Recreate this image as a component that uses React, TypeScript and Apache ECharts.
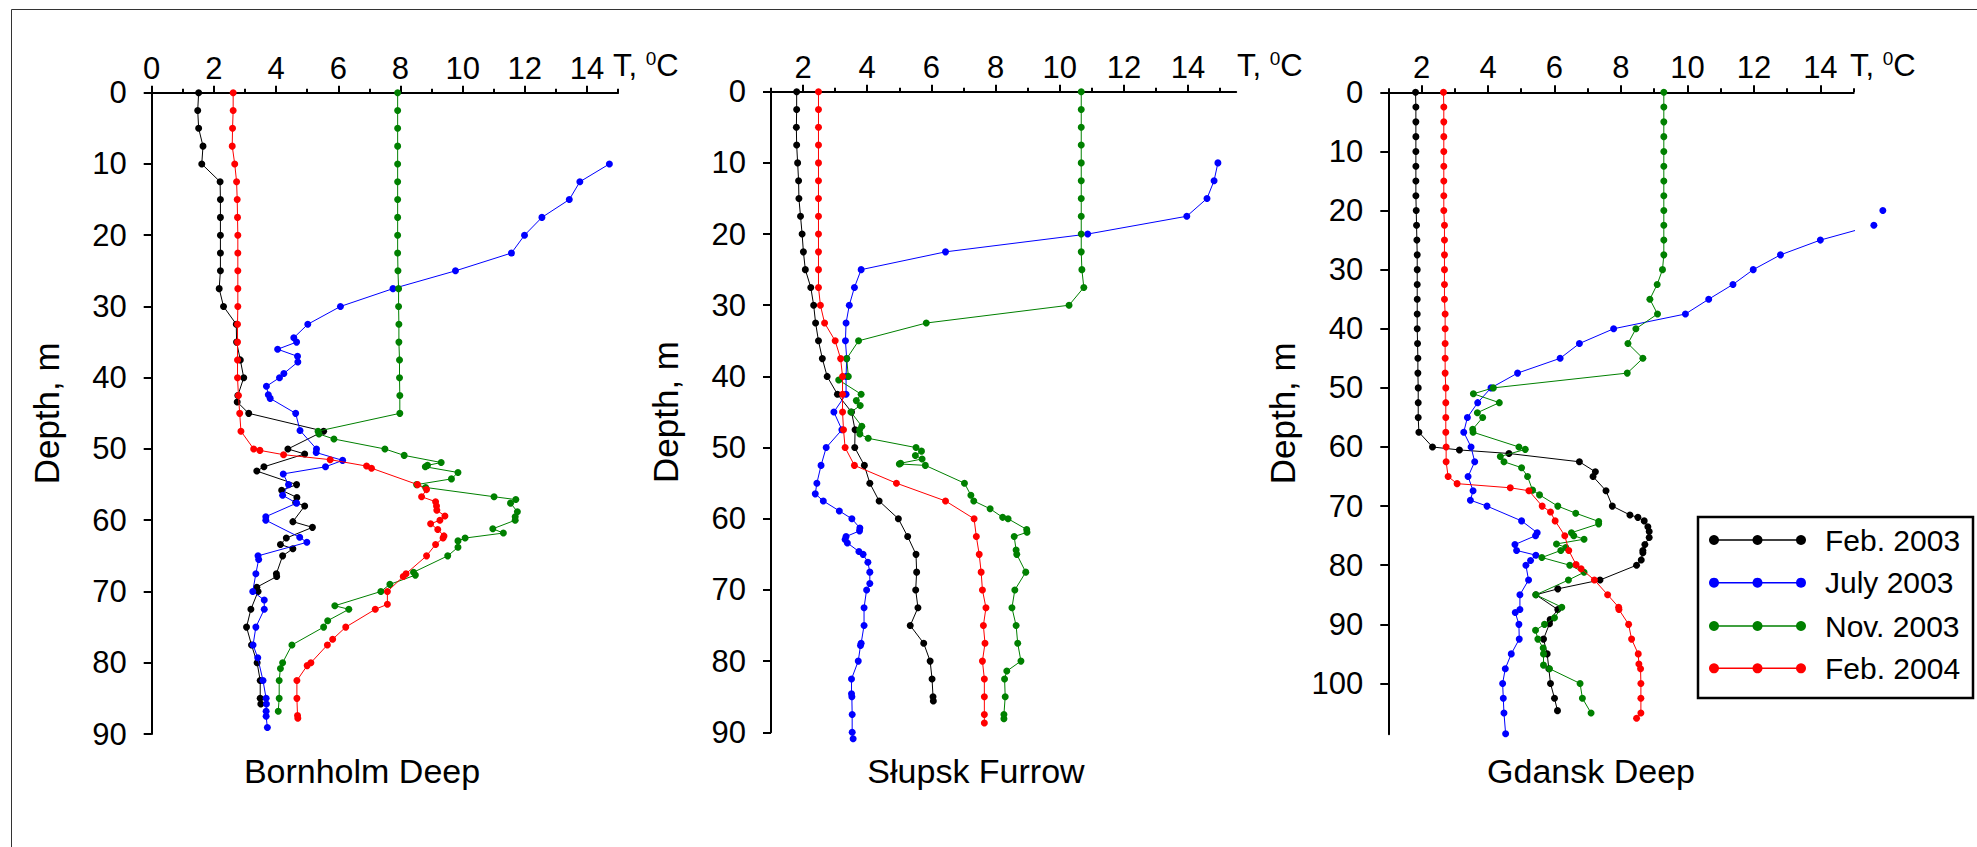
import React, { useEffect, useRef } from "react";
import * as echarts from "echarts";

const FONT = '"Liberation Sans", Arial, Helvetica, sans-serif';

const seriesNames = ["Feb. 2003", "July 2003", "Nov. 2003", "Feb. 2004"];
const seriesColors = ["#000000", "#0000ff", "#008000", "#ff0000"];
const panelTitles = ["Bornholm Deep", "Słupsk Furrow", "Gdansk Deep"];

// ---- Bornholm Deep: [temperature °C, depth m]
const bornholmFeb03 = [[1.51,0],[1.48,2.5],[1.51,5],[1.65,7.5],[1.61,10],[2.2,12.5],[2.21,15],[2.21,17.5],[2.21,20],[2.21,22.5],[2.21,25],[2.17,27.5],[2.31,30],[2.72,32.5],[2.73,35],[2.85,37.5],[2.96,40],[2.77,42.5],[2.75,43.4],[3.12,45],[5.53,47.5],[4.38,50],[4.92,50.7],[3.61,52.5],[3.38,53.1],[4.66,55],[4.18,55.8],[4.67,56.8],[4.63,57.5],[4.92,58],[4.54,60.2],[5.17,61],[4.33,62.5],[4.14,63.4],[4.54,64],[4.21,65],[4.01,67.5],[4.02,67.9],[3.38,69.4],[3.42,70],[3.19,72.5],[3.05,75],[3.21,77.5],[3.39,80],[3.49,82.5],[3.49,85],[3.51,85.8]];
const bornholmJul03 = [[14.72,10],[13.77,12.5],[13.43,15],[12.55,17.5],[11.99,20],[11.57,22.5],[9.77,25],[7.76,27.5],[6.07,30],[5.02,32.5],[4.57,34.4],[4.66,35],[4.05,36],[4.69,37],[4.7,37.8],[4.25,39.4],[4.11,40],[3.69,41.2],[3.75,42.4],[3.81,42.9],[4.63,45],[4.77,47.4],[5.3,50],[5.29,50.5],[6.14,51.6],[5.59,52.5],[4.23,53.5],[4.4,55],[4.21,56.5],[4.66,57.6],[3.67,59.5],[3.67,60],[4.76,62.4],[4.99,63.1],[3.42,65],[3.44,65.5],[3.35,67.5],[3.25,70],[3.62,71.2],[3.62,72.5],[3.35,75],[3.26,77.5],[3.41,79.3],[3.58,82.5],[3.68,85],[3.69,85.8],[3.68,86.8],[3.68,87.5],[3.72,89.1]];
const bornholmNov03 = [[7.91,0],[7.91,2.5],[7.91,5],[7.91,7.5],[7.91,10],[7.91,12.5],[7.91,15],[7.91,17.5],[7.91,20],[7.91,22.5],[7.92,25],[7.94,27.5],[7.94,30],[7.95,32.5],[7.95,35],[7.97,37.5],[7.97,40],[7.98,42.5],[7.98,45],[5.35,47.5],[5.38,47.9],[5.86,48.6],[7.5,50],[8.12,50.9],[9.31,51.9],[8.87,52.3],[8.8,52.5],[9.85,53.3],[9.64,54.2],[8.52,55],[8.81,55.4],[11.01,56.7],[11.71,57.1],[11.54,57.6],[11.76,58.8],[11.69,59.5],[11.69,60],[10.97,61.2],[11.31,61.8],[10.08,62.5],[9.85,62.9],[9.85,63.8],[9.52,65],[8.42,67.3],[8.48,67.7],[7.66,69],[7.37,70],[5.89,72],[6.34,72.5],[5.66,74.1],[5.53,75],[4.51,77.5],[4.21,80],[4.14,80.8],[4.1,82.5],[4.1,85],[4.07,86.8]];
const bornholmFeb04 = [[2.62,0],[2.62,2.5],[2.6,5],[2.59,7.5],[2.67,10],[2.73,12.5],[2.75,15],[2.76,17.5],[2.77,20],[2.77,22.5],[2.77,25],[2.77,27.5],[2.77,30],[2.76,32.5],[2.76,35],[2.76,37.5],[2.76,40],[2.79,42.5],[2.83,45],[2.87,47.5],[3.28,50],[3.48,50.2],[4.24,50.8],[5.74,51.5],[6.91,52.4],[7.07,52.7],[8.55,55],[8.84,55.7],[8.68,56.7],[9.13,57.4],[9.16,58],[9.17,58.6],[9.43,59.4],[9.27,60],[8.97,60.5],[9.2,61.3],[9.4,62.2],[9.37,62.5],[9.13,63.4],[8.84,65],[8.18,67.5],[8.09,67.9],[7.58,70],[7.58,71.8],[7.19,72.5],[6.24,75],[5.82,76.7],[5.65,77.5],[5.12,80],[5.0,80.4],[4.67,82.5],[4.67,85],[4.69,87.4],[4.7,87.8]];

// ---- Słupsk Furrow
const slupskFeb03 = [[1.8,0],[1.8,2.5],[1.79,5],[1.8,7.5],[1.83,10],[1.86,12.5],[1.87,15],[1.92,17.5],[1.97,20],[2.01,22.5],[2.07,25],[2.24,27.5],[2.33,30],[2.39,32.5],[2.48,35],[2.6,37.5],[2.75,40],[3.07,42.5],[3.51,45],[3.62,47.5],[3.61,50],[3.91,52.5],[4.08,55],[4.37,57.5],[4.97,60],[5.26,62.5],[5.52,65],[5.54,67.5],[5.51,70],[5.58,72.5],[5.34,75],[5.76,77.5],[5.96,80],[6.02,82.5],[6.05,85],[6.06,85.6]];
const slupskJul03 = [[14.93,10],[14.81,12.5],[14.59,15],[13.96,17.5],[10.87,20],[6.44,22.5],[3.81,25],[3.6,27.5],[3.44,30],[3.34,32.5],[3.32,35],[3.36,37.5],[3.34,40],[3.34,42.5],[2.96,45],[3.21,47.5],[2.72,50],[2.56,52.5],[2.43,55],[2.38,56.5],[2.63,57.5],[3.13,58.9],[3.52,60],[3.77,61.3],[3.76,61.7],[3.34,62.5],[3.31,62.9],[3.38,63.4],[3.74,64.6],[3.87,65],[4.02,66.1],[4.08,67.5],[4.08,69.1],[3.98,70],[3.9,72.5],[3.9,75],[3.81,77.5],[3.79,77.8],[3.72,80],[3.51,82.5],[3.51,84.6],[3.52,85],[3.53,87.5],[3.53,90],[3.56,90.9]];
const slupskNov03 = [[10.67,0],[10.67,2.5],[10.67,5],[10.67,7.5],[10.67,10],[10.67,12.5],[10.67,15],[10.67,17.5],[10.67,20],[10.67,22.5],[10.69,25],[10.75,27.5],[10.29,30],[5.84,32.5],[3.73,35],[3.36,37.5],[3.41,40],[3.11,40.5],[3.81,42.5],[3.66,43.4],[3.78,44.1],[3.49,45],[3.83,47],[3.76,47.5],[3.77,48.1],[4.03,48.7],[5.52,50],[5.69,50.5],[5.5,51.1],[5.71,51.6],[5.04,52.2],[5.0,52.3],[5.81,52.5],[7.03,55],[7.23,56.7],[7.32,57.5],[7.83,58.6],[8.22,59.8],[8.39,60],[8.97,61.5],[8.98,61.9],[8.58,62.5],[8.64,64.4],[8.66,65],[8.94,67.5],[8.6,70],[8.51,72.5],[8.64,75],[8.69,77.5],[8.79,80],[8.35,81.4],[8.28,82.5],[8.3,85],[8.26,87.5],[8.26,88.1]];
const slupskFeb04 = [[2.48,0],[2.48,2.5],[2.48,5],[2.48,7.5],[2.48,10],[2.48,12.5],[2.48,15],[2.48,17.5],[2.48,20],[2.48,22.5],[2.48,25],[2.48,27.5],[2.54,30],[2.67,32.5],[3.0,35],[3.17,37.5],[3.23,40],[3.23,42.5],[3.23,45],[3.26,47.5],[3.31,50],[3.6,52.5],[4.91,55],[6.44,57.5],[7.33,60],[7.4,62.5],[7.49,65],[7.55,67.5],[7.59,70],[7.7,72.5],[7.62,75],[7.67,77.5],[7.59,80],[7.65,82.5],[7.65,85],[7.65,87.5],[7.65,88.7]];

// ---- Gdansk Deep
const gdanskFeb03 = [[1.82,0],[1.83,2.5],[1.83,5],[1.83,7.5],[1.83,10],[1.83,12.5],[1.83,15],[1.83,17.5],[1.84,20],[1.85,22.5],[1.86,25],[1.87,27.5],[1.87,30],[1.87,32.5],[1.87,35],[1.87,37.5],[1.87,40],[1.88,42.5],[1.89,45],[1.89,47.5],[1.9,50],[1.9,52.5],[1.9,55],[1.92,57.5],[2.33,60],[3.14,60.5],[4.63,61.1],[6.75,62.5],[7.23,64.2],[7.16,65],[7.55,67.4],[7.74,70],[8.27,71.5],[8.51,71.9],[8.7,72.5],[8.81,73.5],[8.85,74.3],[8.85,75.3],[8.72,76.5],[8.66,77.5],[8.66,77.9],[8.61,79.1],[8.47,80],[7.37,82.5],[6.1,84],[5.44,85],[6.1,87.5],[5.87,89.2],[5.85,89.9],[5.67,92.5],[5.78,95],[5.83,97.5],[5.88,100],[6.0,102.5],[6.09,104.6]];
const gdanskJul03 = [[15.88,20],[15.61,22.5],[14.0,25],[12.8,27.5],[11.98,30],[11.37,32.5],[10.64,35],[9.94,37.5],[7.78,40],[6.75,42.5],[6.17,45],[4.89,47.5],[4.09,50],[3.69,52.5],[3.38,55],[3.27,57.5],[3.49,60],[3.6,62.5],[3.4,65],[3.55,67.4],[3.47,69],[3.97,70],[5.01,72.5],[5.48,74.5],[5.43,75],[4.81,76.5],[4.86,77.5],[5.44,78.3],[5.28,79.2],[5.14,80],[5.22,82.5],[4.96,85],[4.96,87.5],[4.82,88],[4.93,90],[4.94,92.5],[4.7,95],[4.52,97.5],[4.44,100],[4.46,102.5],[4.48,105],[4.53,108.5]];
const gdanskNov03 = [[9.29,0],[9.29,2.5],[9.29,5],[9.29,7.5],[9.29,10],[9.29,12.5],[9.29,15],[9.29,17.5],[9.29,20],[9.29,22.5],[9.29,25],[9.29,27.5],[9.25,30],[9.09,32.5],[8.87,35],[9.1,37.5],[8.45,40],[8.21,42.5],[8.66,45],[8.19,47.5],[4.16,50],[3.56,51],[4.34,52.5],[3.68,54.2],[3.84,55],[3.54,57],[3.55,57.5],[4.93,60],[5.12,60.4],[4.37,61.6],[4.48,62.5],[5.01,63.5],[5.19,65],[5.34,67.3],[5.55,68.1],[6.1,70],[6.64,71.2],[7.33,72.6],[7.33,73],[6.51,74.5],[6.58,75],[6.89,75.6],[6.06,76.4],[6.34,77],[6.19,77.5],[5.62,78.7],[6.46,80],[6.89,81.2],[6.42,82.5],[5.44,85],[6.22,87.1],[6.0,88.9],[5.7,90],[5.43,91],[5.5,92.5],[5.66,94],[5.67,95],[5.67,96.9],[5.85,97.5],[6.77,100],[6.84,102.5],[7.1,105]];
const gdanskFeb04 = [[2.66,0],[2.67,2.5],[2.67,5],[2.67,7.5],[2.67,10],[2.67,12.5],[2.67,15],[2.67,17.5],[2.67,20],[2.69,22.5],[2.69,25],[2.69,27.5],[2.69,30],[2.69,32.5],[2.69,35],[2.71,37.5],[2.71,40],[2.71,42.5],[2.71,45],[2.71,47.5],[2.73,50],[2.73,52.5],[2.73,55],[2.73,57.5],[2.74,60],[2.74,62.5],[2.8,65],[3.07,66.2],[4.67,66.9],[5.23,67.4],[5.63,70],[5.88,71],[6.02,72.5],[6.31,75],[6.43,77.5],[6.65,79.9],[6.8,80.6],[7.2,82.5],[7.6,85],[7.93,87.1],[7.94,87.5],[8.23,90],[8.32,92.5],[8.52,95],[8.54,96.7],[8.59,97.5],[8.6,100],[8.6,102.5],[8.6,105],[8.47,105.9]];

// ---- axes
const tempMajorTicks1 = [0, 2, 4, 6, 8, 10, 12, 14];
const tempMajorTicks23 = [2, 4, 6, 8, 10, 12, 14];
const tempMinorTicks = [1, 3, 5, 7, 9, 11, 13, 15];
const depthTicks90 = [0, 10, 20, 30, 40, 50, 60, 70, 80, 90];
const depthTicks100 = [0, 10, 20, 30, 40, 50, 60, 70, 80, 90, 100];
const tempRanges = [[0, 15], [1, 15.5], [1, 15]];
const depthMax = [90, 90, 108.6];

const panelData = [
  [bornholmFeb03, bornholmJul03, bornholmNov03, bornholmFeb04],
  [slupskFeb03, slupskJul03, slupskNov03, slupskFeb04],
  [gdanskFeb03, gdanskJul03, gdanskNov03, gdanskFeb04],
];

// layout (pixels)
const grids = [
  { left: 151.7, top: 92.7, width: 466.4, height: 641.3 },
  { left: 771, top: 91.7, width: 465.2, height: 640.6 },
  { left: 1388.3, top: 92.3, width: 465.3, height: 642 },
];
const titleCenters = [362, 976, 1591];
const unitLabelX = [613, 1237, 1850];

function buildOption() {
  const xAxis: any[] = [];
  const yAxis: any[] = [];
  const series: any[] = [];
  grids.forEach((g, i) => {
    const [mn, mx] = tempRanges[i];
    const majors = i === 0 ? tempMajorTicks1 : tempMajorTicks23;
    xAxis.push({
      type: "value", gridIndex: i, position: "top", min: mn, max: mx,
      axisLine: { show: true, onZero: false, lineStyle: { color: "#000", width: 2 } },
      axisTick: { show: true, inside: false, length: 7, customValues: majors, lineStyle: { color: "#000", width: 2 } },
      axisLabel: { show: true, customValues: majors, fontSize: 31, color: "#000", margin: 9, fontFamily: FONT },
      splitLine: { show: false },
    });
    xAxis.push({
      type: "value", gridIndex: i, position: "top", min: mn, max: mx,
      axisLine: { show: false, onZero: false },
      axisTick: { show: true, inside: false, length: 4, customValues: tempMinorTicks, lineStyle: { color: "#000", width: 2 } },
      axisLabel: { show: false },
      splitLine: { show: false },
    });
    const dTicks = i === 2 ? depthTicks100 : depthTicks90;
    yAxis.push({
      type: "value", gridIndex: i, inverse: true, min: 0, max: depthMax[i],
      name: "Depth, m", nameLocation: "middle", nameGap: 88, nameRotate: 90,
      nameTextStyle: { fontSize: 35, color: "#000", fontFamily: FONT },
      axisLine: { show: true, onZero: false, lineStyle: { color: "#000", width: 2 } },
      axisTick: { show: true, inside: false, length: 8, customValues: dTicks, lineStyle: { color: "#000", width: 2 } },
      axisLabel: { show: true, customValues: dTicks, fontSize: 31, color: "#000", margin: 25, fontFamily: FONT },
      splitLine: { show: false },
    });
    panelData[i].forEach((d, j) => {
      series.push({
        type: "line", name: seriesNames[j], xAxisIndex: i * 2, yAxisIndex: i,
        data: d, symbol: "circle", symbolSize: 7, showSymbol: true, clip: false,
        lineStyle: { color: seriesColors[j], width: 1 },
        itemStyle: { color: seriesColors[j] },
        z: 2 + j,
      });
    });
  });

  const graphic: any[] = [];
  graphic.push({
    type: "rect", shape: { x: 11.5, y: 9.5, width: 2100, height: 1000 },
    style: { fill: null, stroke: "#333", lineWidth: 1 }, silent: true,
  });
  panelTitles.forEach((t, i) => {
    graphic.push({
      type: "text", x: titleCenters[i], y: 771,
      style: { text: t, fontSize: 34, fontFamily: FONT, fill: "#000", textAlign: "center", textVerticalAlign: "middle" },
    });
    graphic.push({
      type: "text", x: unitLabelX[i], y: 65,
      style: {
        text: "{a|T, }{b|0}{a|C}", textAlign: "left", textVerticalAlign: "middle",
        rich: {
          a: { fontSize: 31, fontFamily: FONT, fill: "#000", lineHeight: 32 },
          b: { fontSize: 19, fontFamily: FONT, fill: "#000", verticalAlign: "top", lineHeight: 19 },
        },
      },
    });
  });
  // legend box
  const lx = 1698, ly = 517, lw = 275, lh = 181;
  graphic.push({
    type: "rect", shape: { x: lx, y: ly, width: lw, height: lh },
    style: { fill: "#fff", stroke: "#000", lineWidth: 2.5 }, z: 10,
  });
  const rowY = [540, 582.7, 626, 668.3];
  seriesNames.forEach((n, j) => {
    const y = rowY[j];
    graphic.push({ type: "line", shape: { x1: 1714, y1: y, x2: 1801, y2: y }, style: { stroke: seriesColors[j], lineWidth: 1.5 }, z: 11 });
    [1714, 1757.5, 1801].forEach((cx) => {
      graphic.push({ type: "circle", shape: { cx, cy: y, r: 5 }, style: { fill: seriesColors[j] }, z: 11 });
    });
    graphic.push({
      type: "text", x: 1825, y, z: 11,
      style: { text: n, fontSize: 30, fontFamily: FONT, fill: "#000", textAlign: "left", textVerticalAlign: "middle" },
    });
  });

  return {
    animation: false,
    backgroundColor: "#ffffff",
    textStyle: { fontFamily: FONT },
    grid: grids.map((g) => ({ ...g, containLabel: false })),
    xAxis, yAxis, series, graphic,
  };
}

export default function App() {
  const ref = useRef<HTMLDivElement>(null);
  useEffect(() => {
    if (!ref.current) return;
    const chart = echarts.init(ref.current, null, { renderer: "svg" });
    chart.setOption(buildOption() as any);
    return () => chart.dispose();
  }, []);
  return (
    <div
      ref={ref}
      style={{ position: "fixed", left: 0, top: 0, width: 1977, height: 847, background: "#fff" }}
    />
  );
}
